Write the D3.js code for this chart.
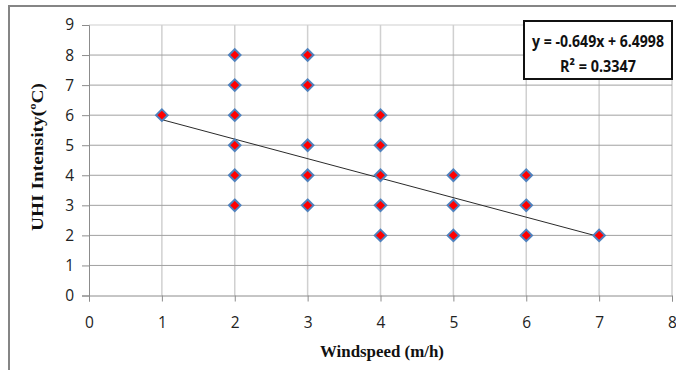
<!DOCTYPE html>
<html>
<head>
<meta charset="utf-8">
<script src="https://cdn.jsdelivr.net/npm/d3@7"></script>
<style>
  html, body { margin: 0; padding: 0; background: #fff; }
  svg { display: block; }
</style>
</head>
<body>
<div id="chart"></div>
<script>
const windspeed = [1, 2, 2, 2, 2, 2, 2, 3, 3, 3, 3, 3, 4, 4, 4, 4, 4, 5, 5, 5, 6, 6, 6, 7]
const uhi = [6, 3, 4, 5, 6, 7, 8, 3, 4, 5, 7, 8, 2, 3, 4, 5, 6, 2, 3, 4, 2, 3, 4, 2]

const xTicks = [0, 1, 2, 3, 4, 5, 6, 7, 8]
const yTicks = [0, 1, 2, 3, 4, 5, 6, 7, 8, 9]

// linear trend shown in the box
const slope = -0.649
const intercept = 6.4998
const trendRange = [1, 7]
const equationLines = ['y = -0.649x + 6.4998', 'R² = 0.3347']

const width = 676
const height = 370
const plot = { left: 89, right: 672, top: 25, bottom: 295.5 }

const svg = d3
  .select('#chart')
  .append('svg')
  .attr('width', width)
  .attr('height', height)

// outer chart frame
svg
  .append('path')
  .attr('d', `M9,${height + 5}V6H${width + 5}`)
  .attr('fill', 'none')
  .attr('stroke', '#858585')
  .attr('stroke-width', 2)

const x = d3.scaleLinear().domain([0, 8]).range([plot.left, plot.right])
const y = d3.scaleLinear().domain([0, 9]).range([plot.bottom, plot.top])

// vertical gridlines
svg
  .append('g')
  .selectAll('line')
  .data(xTicks.slice(1))
  .enter()
  .append('line')
  .attr('x1', (d) => x(d))
  .attr('x2', (d) => x(d))
  .attr('y1', y(9))
  .attr('y2', y(0))
  .attr('stroke', '#d0d0d0')
  .attr('stroke-width', 1.5)

// horizontal gridlines
svg
  .append('g')
  .selectAll('line')
  .data(yTicks.slice(1))
  .enter()
  .append('line')
  .attr('x1', plot.left)
  .attr('x2', plot.right)
  .attr('y1', (d) => y(d))
  .attr('y2', (d) => y(d))
  .attr('stroke', (d) => (d === 9 ? '#cfcfcf' : '#a0a0a0'))
  .attr('stroke-width', 1)

// axes
const xAxis = svg
  .append('g')
  .attr('transform', `translate(0,${y(0)})`)
  .call(d3.axisBottom(x).tickValues(xTicks).tickSize(6).tickPadding(15).tickFormat(d3.format('d')))

const yAxis = svg
  .append('g')
  .attr('transform', `translate(${x(0)},0)`)
  .call(d3.axisLeft(y).tickValues(yTicks).tickSize(7).tickPadding(8).tickFormat(d3.format('d')))

;[xAxis, yAxis].forEach((ax) => {
  ax.select('.domain').attr('stroke', '#8c8c8c').attr('stroke-width', 1)
  ax.selectAll('.tick line').attr('stroke', '#8c8c8c')
  ax.selectAll('.tick text')
    .attr('fill', '#222')
    .style('font-family', '"Open Sans", "Noto Sans", sans-serif')
    .style('font-size', '15.5px')
})

// trend line
svg
  .append('line')
  .attr('x1', x(trendRange[0]))
  .attr('y1', y(slope * trendRange[0] + intercept))
  .attr('x2', x(trendRange[1]))
  .attr('y2', y(slope * trendRange[1] + intercept))
  .attr('stroke', '#2a2a2a')
  .attr('stroke-width', 1)

// diamond markers
const diamond = d3.symbol().type(d3.symbolDiamond2).size(85)
svg
  .append('g')
  .selectAll('path')
  .data(windspeed.map((w, i) => ({ w, u: uhi[i] })))
  .enter()
  .append('path')
  .attr('d', diamond)
  .attr('transform', (d) => `translate(${x(d.w)},${y(d.u)})`)
  .attr('fill', '#ff0000')
  .attr('stroke', '#4f81bd')
  .attr('stroke-width', 2)

// equation box
const box = svg.append('g').attr('transform', 'translate(524,21)')
box
  .append('rect')
  .attr('width', 148)
  .attr('height', 58)
  .attr('fill', '#fff')
  .attr('stroke', '#111')
  .attr('stroke-width', 2)

// the box text is narrow (Calibri-like), so squeeze it horizontally
const lineWidths = [132, 76]
box
  .selectAll('text')
  .data(equationLines)
  .enter()
  .append('text')
  .attr('text-anchor', 'middle')
  .attr('fill', '#111')
  .style('font-family', '"Open Sans", "Noto Sans", sans-serif')
  .style('font-size', '16px')
  .style('font-weight', 'bold')
  .text((d) => d)
  .attr('transform', function (d, i) {
    const natural = this.getComputedTextLength() || lineWidths[i]
    const k = Math.min(1, lineWidths[i] / natural)
    return `translate(74,${26 + i * 25}) scale(${k},1)`
  })

// axis titles
svg
  .append('text')
  .attr('x', 382)
  .attr('y', 357)
  .attr('text-anchor', 'middle')
  .attr('textLength', 124)
  .attr('lengthAdjust', 'spacingAndGlyphs')
  .attr('fill', '#111')
  .style('font-family', '"Liberation Serif", "DejaVu Serif", serif')
  .style('font-size', '17px')
  .style('font-weight', 'bold')
  .text('Windspeed (m/h)')

svg
  .append('text')
  .attr('transform', `translate(43,157) rotate(-90)`)
  .attr('text-anchor', 'middle')
  .attr('textLength', 148)
  .attr('lengthAdjust', 'spacingAndGlyphs')
  .attr('fill', '#111')
  .style('font-family', '"Liberation Serif", "DejaVu Serif", serif')
  .style('font-size', '17px')
  .style('font-weight', 'bold')
  .text('UHI Intensity(ºC)')
</script>
</body>
</html>
